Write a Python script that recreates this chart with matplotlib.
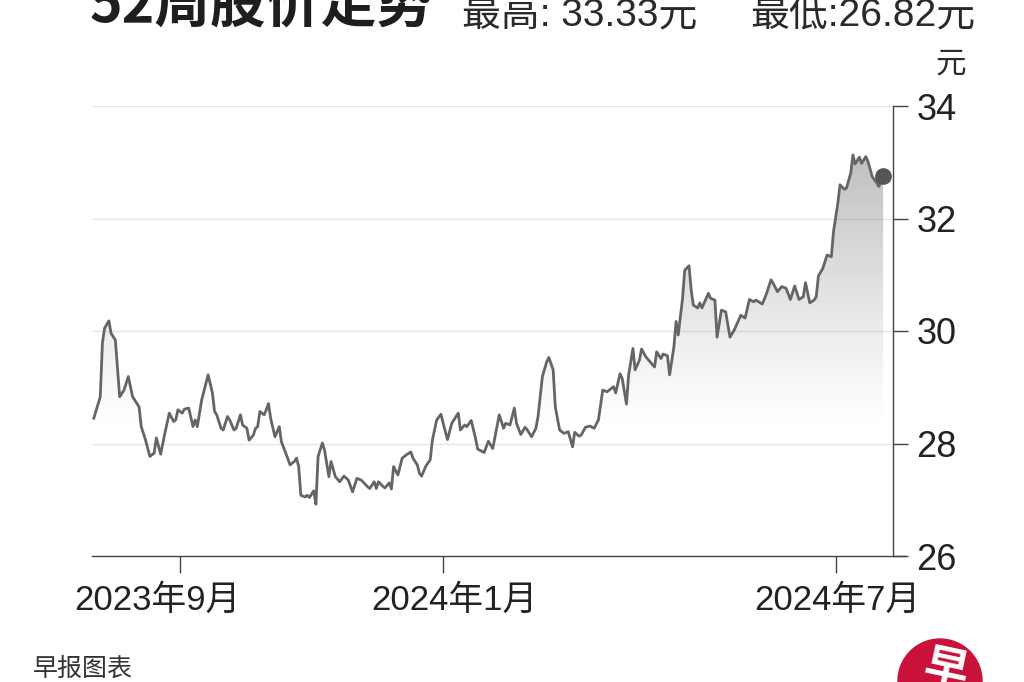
import matplotlib
matplotlib.use("Agg")
import matplotlib.pyplot as plt
import matplotlib.dates as mdates
from matplotlib.patches import Ellipse
from matplotlib.lines import Line2D
import numpy as np
import pandas as pd

dates = [
"2023-07-23","2023-07-26","2023-07-27","2023-07-28","2023-07-30","2023-07-31","2023-08-02","2023-08-04",
"2023-08-06","2023-08-08","2023-08-10","2023-08-13","2023-08-14","2023-08-16","2023-08-18","2023-08-20",
"2023-08-21","2023-08-23","2023-08-25","2023-08-27","2023-08-29","2023-08-30","2023-08-31","2023-09-02",
"2023-09-03","2023-09-05","2023-09-07","2023-09-08","2023-09-09","2023-09-11","2023-09-14","2023-09-16",
"2023-09-17","2023-09-18","2023-09-20","2023-09-21","2023-09-23","2023-09-24","2023-09-26","2023-09-27",
"2023-09-29","2023-09-30","2023-10-02","2023-10-03","2023-10-05","2023-10-06","2023-10-07","2023-10-08",
"2023-10-10","2023-10-11","2023-10-12","2023-10-13","2023-10-15","2023-10-17","2023-10-18","2023-10-20",
"2023-10-22","2023-10-24","2023-10-25","2023-10-26","2023-10-27","2023-10-29","2023-10-30","2023-10-31",
"2023-11-02","2023-11-03","2023-11-04","2023-11-06","2023-11-07","2023-11-09","2023-11-10","2023-11-12",
"2023-11-14","2023-11-16","2023-11-18","2023-11-20","2023-11-22","2023-11-24","2023-11-27","2023-11-28",
"2023-11-30","2023-12-01","2023-12-02","2023-12-04","2023-12-05","2023-12-07","2023-12-08","2023-12-09",
"2023-12-11","2023-12-13","2023-12-15","2023-12-17","2023-12-18","2023-12-20","2023-12-21","2023-12-22",
"2023-12-24","2023-12-26","2023-12-27","2023-12-29","2023-12-31","2024-01-01","2024-01-03","2024-01-05",
"2024-01-08","2024-01-09","2024-01-11","2024-01-12","2024-01-14","2024-01-16","2024-01-17","2024-01-18",
"2024-01-20","2024-01-22","2024-01-24","2024-01-27","2024-01-29","2024-01-30","2024-02-01","2024-02-03",
"2024-02-04","2024-02-06","2024-02-08","2024-02-09","2024-02-11","2024-02-13","2024-02-14","2024-02-16",
"2024-02-18","2024-02-19","2024-02-21","2024-02-22","2024-02-24","2024-02-26","2024-02-28","2024-03-01",
"2024-03-02","2024-03-04","2024-03-05","2024-03-07","2024-03-09","2024-03-11","2024-03-13","2024-03-15",
"2024-03-17","2024-03-18","2024-03-20","2024-03-21","2024-03-23","2024-03-24","2024-03-26","2024-03-27",
"2024-03-29","2024-03-30","2024-04-01","2024-04-02","2024-04-04","2024-04-06","2024-04-08","2024-04-09",
"2024-04-11","2024-04-12","2024-04-14","2024-04-15","2024-04-17","2024-04-18","2024-04-19","2024-04-21",
"2024-04-22","2024-04-24","2024-04-25","2024-04-26","2024-04-28","2024-04-29","2024-04-30","2024-05-03",
"2024-05-04","2024-05-06","2024-05-07","2024-05-09","2024-05-11","2024-05-13","2024-05-15","2024-05-18",
"2024-05-20","2024-05-22","2024-05-24","2024-05-25","2024-05-28","2024-05-30","2024-06-01","2024-06-02",
"2024-06-04","2024-06-06","2024-06-08","2024-06-10","2024-06-12","2024-06-14","2024-06-16","2024-06-17",
"2024-06-19","2024-06-21","2024-06-22","2024-06-23","2024-06-25","2024-06-27","2024-06-29","2024-06-30",
"2024-07-02","2024-07-03","2024-07-05","2024-07-06","2024-07-08","2024-07-09","2024-07-10","2024-07-12",
"2024-07-13","2024-07-15","2024-07-16","2024-07-18","2024-07-20","2024-07-21","2024-07-23",
]
prices = [
28.45,28.83,29.79,30.05,30.18,29.96,29.84,28.83,
28.95,29.19,28.83,28.65,28.30,28.06,27.77,27.83,
28.10,27.81,28.19,28.54,28.39,28.42,28.60,28.54,
28.61,28.63,28.30,28.42,28.30,28.77,29.22,28.90,
28.57,28.51,28.27,28.24,28.48,28.42,28.24,28.27,
28.51,28.33,28.27,28.06,28.15,28.27,28.30,28.57,
28.51,28.60,28.71,28.45,28.12,28.30,28.03,27.83,
27.62,27.68,27.74,27.59,27.08,27.05,27.08,27.04,
27.16,26.92,27.77,28.01,27.88,27.41,27.68,27.41,
27.32,27.42,27.35,27.14,27.38,27.35,27.23,27.20,
27.32,27.20,27.32,27.24,27.21,27.30,27.19,27.59,
27.44,27.74,27.80,27.85,27.74,27.62,27.47,27.42,
27.60,27.71,28.06,28.42,28.52,28.36,28.07,28.36,
28.54,28.24,28.33,28.30,28.41,28.09,27.90,27.88,
27.84,28.04,27.91,28.51,28.27,28.36,28.33,28.63,
28.36,28.16,28.29,28.24,28.12,28.27,28.48,29.19,
29.45,29.53,29.31,28.65,28.24,28.18,28.21,27.94,
28.20,28.13,28.15,28.29,28.31,28.27,28.42,28.95,
28.92,28.95,29.01,28.90,29.24,29.16,28.70,29.22,
29.69,29.31,29.48,29.68,29.54,29.45,29.36,29.63,
29.51,29.59,29.56,29.22,29.72,30.17,29.93,30.58,
31.08,31.16,30.73,30.46,30.41,30.50,30.41,30.67,
30.58,30.55,29.89,30.37,30.34,29.89,30.02,30.28,
30.23,30.56,30.52,30.55,30.48,30.67,30.91,30.85,
30.70,30.79,30.76,30.56,30.80,30.56,30.61,30.86,
30.50,30.55,30.61,30.98,31.11,31.35,31.32,31.77,
32.27,32.60,32.52,32.54,32.81,33.13,32.97,33.09,
32.98,33.10,33.01,32.74,32.64,32.57,32.75,
]
yticks = [26, 28, 30, 32, 34]
xtick_dates = ["2023-09-01", "2024-01-01", "2024-07-01"]
xtick_labels = ["2023年9月", "2024年1月", "2024年7月"]
title = "52周股价走势"
high_text = "最高: 33.33元"
low_text = "最低:26.82元"
unit = "元"
source = "早报图表"

FAM = ["Liberation Sans", "Noto Sans CJK SC", "DejaVu Sans"]
plt.rcParams["font.family"] = FAM

fig = plt.figure(figsize=(10.24, 6.82), dpi=100)
W, H = 1024, 682
ax = fig.add_axes([92 / W, 1 - 556 / H, (893 - 92) / W, (556 - 106) / H])

x = mdates.date2num(pd.to_datetime(dates))
y = np.array(prices)

xmin = mdates.date2num(pd.Timestamp("2023-07-22 04:00"))
xmax = mdates.date2num(pd.Timestamp("2024-07-27 14:00"))
ax.set_xlim(xmin, xmax)
ax.set_ylim(26, 34)

# gridlines
for t in yticks[1:]:
    ax.axhline(t, color="#e6e6e6", lw=1.0, zorder=0)

# gradient fill under line
poly = ax.fill_between(x, y, 26, color="none", lw=0)
ys = np.linspace(26, 34, 400)
alpha = np.clip((ys - 28.3) / (33.4 - 28.3), 0, 1) ** 1.15 * 0.46
grad = np.zeros((len(ys), 1, 4))
grad[:, 0, :3] = 0.42
grad[:, 0, 3] = alpha
im = ax.imshow(grad, extent=[x[0], x[-1], 26, 34], origin="lower",
               aspect="auto", zorder=1, interpolation="bilinear")
path = poly.get_paths()[0]
im.set_clip_path(path, transform=ax.transData)

ax.plot(x, y, color="#656565", lw=2.0, zorder=3, solid_joinstyle="round")
ax.plot([x[-1]], [y[-1]], "o", color="#555555", ms=11, zorder=4)

# spines
for s in ["top", "left", "bottom"]:
    ax.spines[s].set_visible(False)
ax.spines["right"].set_color("#444444")
ax.spines["right"].set_linewidth(1.0)
ax.add_line(Line2D([0, 1.015], [0, 0], transform=ax.transAxes, color="#444444",
                   lw=1.0, clip_on=False, zorder=5))

ax.yaxis.tick_right()
ax.set_yticks(yticks)
ax.set_yticklabels([str(t) for t in yticks])
ax.tick_params(axis="y", length=11, width=1.0, color="#444444", pad=6,
               labelsize=26, labelcolor="#222222")
ax.tick_params(axis="y", which="both", left=False)

# x ticks (marks) + labels placed with per-label offsets like the reference
xt = mdates.date2num(pd.to_datetime(xtick_dates))
ax.set_xticks(xt)
ax.set_xticklabels([])
ax.tick_params(axis="x", length=12, width=1.0, color="#444444")
label_shift_px = [-23, 11, 2]
for xv, lab, dx in zip(xt, xtick_labels, label_shift_px):
    ax.annotate(lab, xy=(xv, 0), xycoords=("data", "axes fraction"),
                xytext=(dx * 0.72, -32), textcoords="offset points",
                ha="center", va="center", fontsize=25, color="#222222",
                annotation_clip=False)

# texts
fig.text(90 / W, 1 - 21 / H, title, fontsize=40, fontweight="black",
         color="#1e1e1e", va="baseline", ha="left",
         family=["Noto Sans CJK SC", "DejaVu Sans"])
fig.text(462 / W, 1 - 26 / H, high_text, fontsize=28, color="#2a2a2a",
         va="baseline", ha="left")
fig.text(975 / W, 1 - 26 / H, low_text, fontsize=28, color="#2a2a2a",
         va="baseline", ha="right")
fig.text(951 / W, 1 - 65 / H, unit, fontsize=22, color="#2a2a2a",
         va="center", ha="center")
fig.text(33 / W, 1 - 669 / H, source, fontsize=18, color="#333333",
         va="center", ha="left")

# logo
fig.add_artist(Ellipse((940 / W, 1 - 681 / H), 84 / W, 84 / H,
                       transform=fig.transFigure, color="#c8123a", zorder=5))
fig.text(945 / W, 1 - 670 / H, "早", fontsize=32, fontweight="bold", color="white",
         rotation=-12, va="center", ha="center", zorder=6,
         family=["Noto Sans CJK SC"])

fig.savefig("out.png", dpi=100, facecolor="white")
